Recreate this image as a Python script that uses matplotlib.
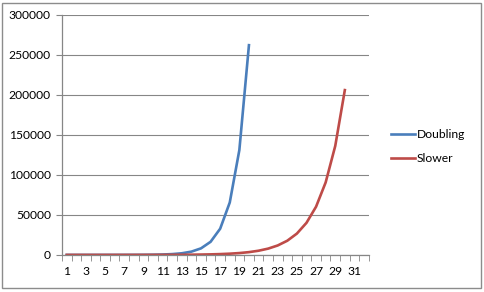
import numpy as np
import matplotlib; matplotlib.use("Agg")
import matplotlib.pyplot as plt
from matplotlib.patches import Rectangle

# categories 1..32 (Excel-style category axis)
categories = list(range(1, 33))
doubling = [0.5, 1, 2, 4, 8, 16, 32, 64, 128, 256, 512, 1024, 2048, 4096, 8192,
            16384, 32768, 65536, 131072, 262144]
slower = [1.5, 2.3, 3.4, 5.1, 7.7, 11.5, 17, 26, 39, 59, 89, 133, 200, 301, 452,
          679, 1024, 1539, 2313, 3477, 5227, 7857, 11810, 17750, 26680, 40100,
          60280, 90610, 136200, 206000]
yticks = [0, 50000, 100000, 150000, 200000, 250000, 300000]

plt.rcParams["font.family"] = ["Lato", "DejaVu Sans"]
fig = plt.figure(figsize=(4.84, 2.92), dpi=100)
fig.patches.append(Rectangle((0.005, 0.012), 0.989, 0.978, transform=fig.transFigure,
                             fill=False, edgecolor="#8c8c8c", lw=1.0))
ax = fig.add_axes([0.128, 0.127, 0.634, 0.822])

ax.plot(categories[:len(doubling)], doubling, color="#4A7EBB", lw=1.9, label="Doubling")
ax.plot(categories[:len(slower)], slower, color="#BE4B48", lw=1.9, label="Slower")

ax.set_xlim(0.5, 32.5)
ax.set_ylim(0, 300000)
ax.set_yticks(yticks)
ax.set_yticklabels([str(v) for v in yticks], fontsize=8.7)
ax.set_xticks(categories[::2])
ax.set_xticklabels([str(c) for c in categories[::2]], fontsize=8.7)
ax.set_xticks(np.arange(0.5, 33, 1), minor=True)
ax.tick_params(axis="x", which="major", length=0, pad=8)
ax.tick_params(axis="x", which="minor", length=4, color="#868686", direction="out")
ax.tick_params(axis="y", length=4, color="#868686", pad=4)
ax.grid(axis="y", color="#868686", lw=0.8)
ax.set_axisbelow(True)
for s in ["top", "right"]:
    ax.spines[s].set_visible(False)
for s in ["left", "bottom"]:
    ax.spines[s].set_color("#868686")
    ax.spines[s].set_linewidth(0.9)

ax.legend(loc="center left", bbox_to_anchor=(1.037, 0.452), frameon=False, fontsize=8.7,
          handlelength=2.0, handletextpad=0.1, labelspacing=1.05)

fig.savefig("out.png", dpi=100)
